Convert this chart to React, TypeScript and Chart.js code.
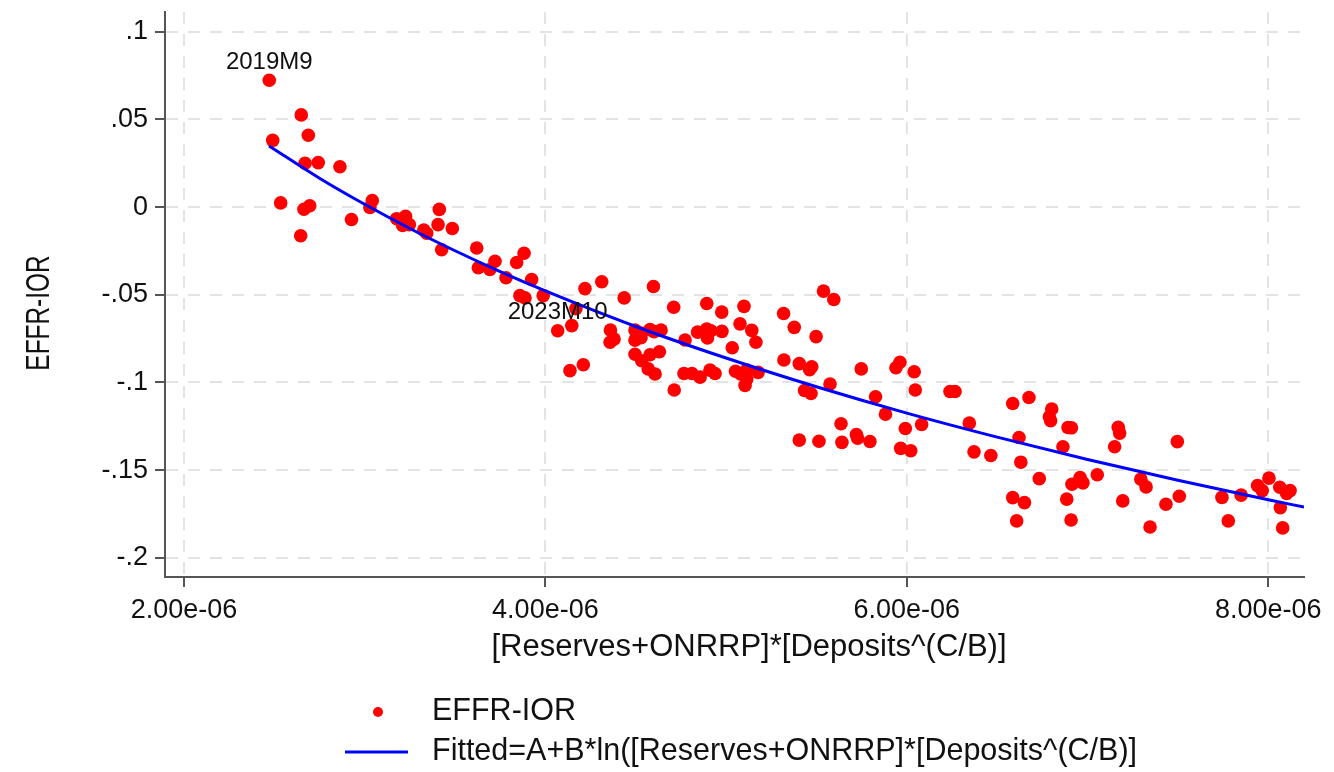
import React, { useEffect, useRef } from 'react';
import { Chart, registerables } from 'chart.js';

Chart.register(...registerables);

// ---- Data (x values in units of 1e-6) ----
const effrXMicro = [
  2.472, 2.649, 2.688, 2.491, 2.670, 2.743, 2.863, 2.535, 2.664, 2.696, 2.646, 2.927, 3.042, 3.029, 3.177, 3.226, 3.210, 3.247, 3.327, 3.343, 3.413, 3.406, 3.485, 3.426, 3.620,
  3.629, 3.693, 3.721, 3.841, 3.882, 3.782, 3.924, 3.859, 3.887, 3.988, 4.068, 4.146, 4.169, 4.219, 4.312, 4.136, 4.210, 4.436, 4.598, 4.710, 4.360, 4.380, 4.358,
  4.496, 4.529, 4.496, 4.529, 4.579, 4.601, 4.640, 4.496, 4.533, 4.579, 4.631, 4.569, 4.607, 4.713, 4.773, 4.767, 4.811, 4.856, 4.842, 4.893, 4.897, 4.916, 4.893, 4.977, 4.976, 4.911, 4.939,
  5.099, 5.077, 5.142, 5.165, 5.034, 5.052, 5.080, 5.114, 5.114, 5.177, 5.105, 5.318, 5.377, 5.498, 5.539, 5.596, 5.320, 5.405, 5.462, 5.474, 5.434, 5.470, 5.575, 5.636, 5.405, 5.514, 5.641, 5.721, 5.728, 5.796, 5.748,
  5.940, 5.962, 6.041, 6.047, 6.239, 6.267, 5.827, 5.882, 5.992, 6.082, 5.966, 6.022, 6.346, 6.372, 6.465,
  6.586, 6.676, 6.802, 6.789, 6.796, 6.621, 6.631, 6.733, 6.586, 6.651, 6.608, 6.892, 6.911, 6.864, 6.885, 6.909, 6.914, 6.959, 6.975, 7.054, 7.170, 7.178, 7.150, 7.195, 7.295, 7.324, 7.346, 7.434, 7.497, 7.508, 7.744, 7.779, 7.850, 7.941, 7.967, 8.004, 8.064, 8.102, 8.121, 8.067, 8.080,
];

const effrY = [
  0.0724, 0.0526, 0.0410, 0.0381, 0.0250, 0.0254, 0.0230, 0.0024, -0.0012, 0.0008, -0.0163, -0.0071, 0.0037, -0.0002, -0.0066, -0.0053, -0.0105, -0.0100, -0.0131, -0.0149, -0.0013, -0.0100, -0.0122, -0.0243, -0.0233,
  -0.0346, -0.0356, -0.0309, -0.0316, -0.0263, -0.0403, -0.0413, -0.0505, -0.0518, -0.0505, -0.0705, -0.0676, -0.0579, -0.0465, -0.0426, -0.0933, -0.0899, -0.0518, -0.0453, -0.0571, -0.0702, -0.0753, -0.0771,
  -0.0702, -0.0719, -0.0759, -0.0745, -0.0699, -0.0710, -0.0702, -0.0839, -0.0876, -0.0842, -0.0825, -0.0923, -0.0952, -0.1043, -0.0758, -0.0949, -0.0949, -0.0970, -0.0713, -0.0696, -0.0747, -0.0705, -0.0550, -0.0709, -0.0599, -0.0930, -0.0949,
  -0.0566, -0.0666, -0.0703, -0.0771, -0.0802, -0.0936, -0.0952, -0.0930, -0.0982, -0.0943, -0.1017, -0.0607, -0.0686, -0.0739, -0.0479, -0.0527, -0.0872, -0.0893, -0.0927, -0.0911, -0.1046, -0.1063, -0.1009, -0.1236, -0.1329, -0.1336, -0.1342, -0.1297, -0.1318, -0.1337, -0.0923,
  -0.0916, -0.0885, -0.0939, -0.1043, -0.1052, -0.1052, -0.1082, -0.1181, -0.1263, -0.1240, -0.1376, -0.1390, -0.1232, -0.1396, -0.1417,
  -0.1120, -0.1086, -0.1152, -0.1196, -0.1219, -0.1314, -0.1455, -0.1549, -0.1657, -0.1686, -0.1790, -0.1257, -0.1259, -0.1367, -0.1666, -0.1785, -0.1581, -0.1543, -0.1573, -0.1527, -0.1256, -0.1289, -0.1367, -0.1676, -0.1552, -0.1596, -0.1825, -0.1695, -0.1338, -0.1649, -0.1656, -0.1790, -0.1643, -0.1589, -0.1617, -0.1546, -0.1598, -0.1633, -0.1617, -0.1714, -0.1830,
];

const fitXMicro = [2.471, 2.75, 3.0, 3.25, 3.5, 3.75, 4.0, 4.5, 5.0, 5.5, 6.0, 6.5, 7.0, 7.5, 8.0, 8.198];
const fitY = [0.0349, 0.0165, 0.0016, -0.0122, -0.0249, -0.0368, -0.0478, -0.0681, -0.0861, -0.1025, -0.1175, -0.1312, -0.1440, -0.1558, -0.1669, -0.1711];

const annotationLabels = ['2019M9', '2023M10'];
const annotationXMicro = [2.472, 4.068];
const annotationY = [0.0724, -0.0705];

const xTickValuesMicro = [2, 4, 6, 8];
const xTickLabels = ['2.00e-06', '4.00e-06', '6.00e-06', '8.00e-06'];
const yTickValues = [0.1, 0.05, 0, -0.05, -0.1, -0.15, -0.2];
const yTickLabels = ['.1', '.05', '0', '-.05', '-.1', '-.15', '-.2'];

const xTitle = '[Reserves+ONRRP]*[Deposits^(C/B)]';
const yTitle = 'EFFR-IOR';
const scatterLabel = 'EFFR-IOR';
const fitLabel = 'Fitted=A+B*ln([Reserves+ONRRP]*[Deposits^(C/B)]';

const MICRO = 1e-6;
const CANVAS_W = 1400;
const CANVAS_H = 772;
const FONT = '"Liberation Sans", Arial, Helvetica, sans-serif';
const RED = '#ff0000';
const BLUE = '#0000ff';
const AXIS = '#555555';
const GRID = '#e4e4e4';
const TEXT = '#111111';

const overlayPlugin = {
  id: 'overlay',
  afterDatasetsDraw(chart: any) {
    const ctx = chart.ctx;
    const xs = chart.scales.x;
    const ys = chart.scales.y;
    ctx.save();
    ctx.fillStyle = TEXT;
    ctx.font = `24px ${FONT}`;
    ctx.textAlign = 'center';
    ctx.textBaseline = 'middle';
    annotationLabels.forEach((lab, i) => {
      const px = xs.getPixelForValue(annotationXMicro[i] * MICRO);
      const py = ys.getPixelForValue(annotationY[i]);
      ctx.fillText(lab, px, py - 18);
    });
    ctx.restore();
  },
  afterDraw(chart: any) {
    const ctx = chart.ctx;
    ctx.save();
    ctx.fillStyle = TEXT;
    // y title (condensed, rotated)
    ctx.save();
    ctx.translate(40, 313);
    ctx.rotate(-Math.PI / 2);
    ctx.scale(0.74, 1);
    ctx.font = `33px ${FONT}`;
    ctx.textAlign = 'center';
    ctx.textBaseline = 'middle';
    ctx.fillText(yTitle, 0, 0);
    ctx.restore();
    // x title
    ctx.font = `31px ${FONT}`;
    ctx.textAlign = 'center';
    ctx.textBaseline = 'middle';
    ctx.fillText(xTitle, 749, 647);
    // legend
    ctx.font = `30.5px ${FONT}`;
    ctx.textAlign = 'left';
    ctx.fillText(scatterLabel, 432, 712);
    ctx.fillText(fitLabel, 432, 752);
    ctx.fillStyle = RED;
    ctx.beginPath();
    ctx.arc(378, 712, 5, 0, Math.PI * 2);
    ctx.fill();
    ctx.strokeStyle = BLUE;
    ctx.lineWidth = 3;
    ctx.beginPath();
    ctx.moveTo(345, 752);
    ctx.lineTo(408, 752);
    ctx.stroke();
    ctx.restore();
  },
};

export default function App() {
  const ref = useRef<HTMLCanvasElement>(null);

  useEffect(() => {
    const canvas = ref.current;
    if (!canvas) return;
    const scatterData = effrXMicro.map((x, i) => ({ x: x * MICRO, y: effrY[i] }));
    const fitData = fitXMicro.map((x, i) => ({ x: x * MICRO, y: fitY[i] }));

    const chart = new Chart(canvas, {
      type: 'scatter',
      data: {
        datasets: [
          {
            label: scatterLabel,
            data: scatterData,
            backgroundColor: RED,
            borderColor: RED,
            borderWidth: 0,
            pointRadius: 6.8,
            pointHoverRadius: 6.8,
            order: 2,
          },
          {
            label: fitLabel,
            data: fitData,
            showLine: true,
            borderColor: BLUE,
            backgroundColor: BLUE,
            borderWidth: 3,
            pointRadius: 0,
            cubicInterpolationMode: 'monotone',
            fill: false,
            order: 1,
          } as any,
        ],
      },
      options: {
        responsive: false,
        animation: false,
        devicePixelRatio: 1,
        layout: { padding: { top: 12, right: CANVAS_W - 1304, left: 0, bottom: 0 } },
        plugins: {
          legend: { display: false },
          tooltip: { enabled: false },
          title: { display: false },
        },
        scales: {
          x: {
            type: 'linear',
            min: 1.895 * MICRO,
            max: 8.198 * MICRO,
            afterBuildTicks: (s: any) => {
              s.ticks = xTickValuesMicro.map((v) => ({ value: v * MICRO }));
            },
            afterFit: (s: any) => {
              s.height = CANVAS_H - 577;
            },
            ticks: {
              callback: (_v: any, i: number) => xTickLabels[i],
              font: { size: 27, family: FONT },
              color: TEXT,
              padding: 7,
              maxRotation: 0,
              autoSkip: false,
            },
            grid: {
              color: GRID,
              lineWidth: 2,
              tickLength: 10,
              tickColor: AXIS,
              tickWidth: 2,
            },
            border: { display: true, color: AXIS, width: 2, dash: [12, 10] },
          },
          y: {
            type: 'linear',
            min: -0.211,
            max: 0.1113,
            afterBuildTicks: (s: any) => {
              s.ticks = yTickValues.map((v) => ({ value: v }));
            },
            afterFit: (s: any) => {
              s.width = 165;
            },
            ticks: {
              callback: (_v: any, i: number) => yTickLabels[i],
              font: { size: 27, family: FONT, lineHeight: 0.1 },
              color: TEXT,
              padding: 7,
              autoSkip: false,
            },
            grid: {
              color: GRID,
              lineWidth: 2,
              tickLength: 10,
              tickColor: AXIS,
              tickWidth: 2,
            },
            border: { display: true, color: AXIS, width: 2, dash: [12, 10] },
          },
        },
      },
      plugins: [overlayPlugin],
    } as any);

    return () => chart.destroy();
  }, []);

  return (
    <div
      style={{
        position: 'fixed',
        left: 0,
        top: 0,
        width: 1334,
        height: 772,
        overflow: 'hidden',
        background: '#ffffff',
      }}
    >
      <canvas
        ref={ref}
        width={CANVAS_W}
        height={CANVAS_H}
        style={{ display: 'block', width: CANVAS_W, height: CANVAS_H }}
      />
    </div>
  );
}
